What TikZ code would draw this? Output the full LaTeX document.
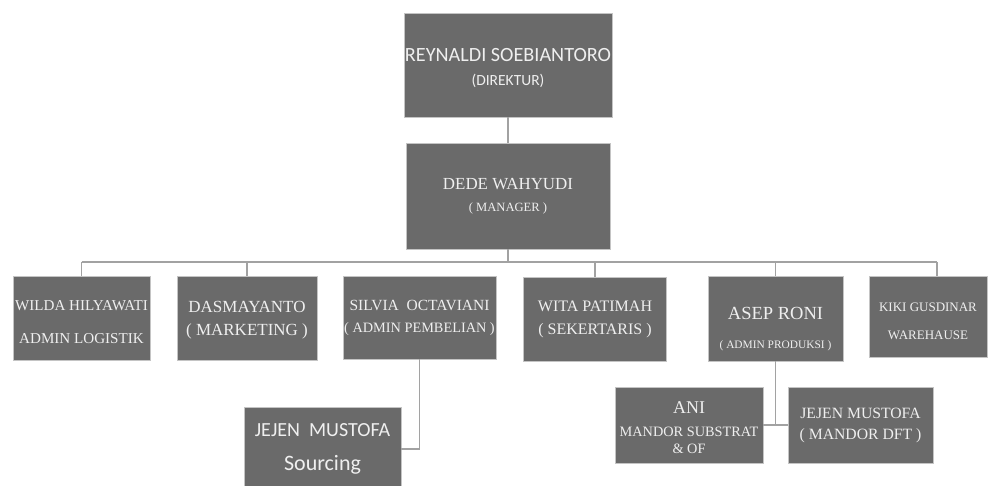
\documentclass[tikz,border=0pt]{standalone}
\usepackage{fontspec}
\setmainfont{Liberation Serif}
\newfontfamily\calibri{Carlito}
\definecolor{boxgray}{HTML}{6A6A6A}
\definecolor{rimgray}{HTML}{C4C4C4}
\definecolor{wiregray}{HTML}{A2A2A2}
\definecolor{label}{HTML}{EFEFEF}
\newcommand{\fs}[2]{\fontsize{#1}{#2}\selectfont}
\newcommand{\lift}[1]{\rule{0pt}{#1}}

\begin{document}
\begin{tikzpicture}[x=1pt,y=-1pt,
  unit/.style={draw=rimgray,line width=0.8pt,fill=boxgray,text=label,align=center,inner sep=0pt},
  wire/.style={draw=wiregray,line width=1.3pt}]
  \useasboundingbox (0,0) rectangle (991,486);
  % top levels
  \node[unit,minimum width=208,minimum height=104,font=\calibri\fs{20.2}{24}] (dir) at (508,65)
    {\lift{19pt}REYNALDI SOEBIANTORO\\{\fs{15.5}{24}(DIREKTUR)}};
  \node[unit,minimum width=204,minimum height=106,font=\fs{16.9}{22}] (mgr) at (508,196)
    {DEDE WAHYUDI\\{\fs{12.6}{22}( MANAGER )}};
  % staff row
  \node[unit,minimum width=137,minimum height=84,font=\fs{15.1}{33}] (wilda) at (81.5,318)
    {\lift{17.5pt}WILDA HILYAWATI\\ADMIN LOGISTIK};
  \node[unit,minimum width=140,minimum height=84,font=\fs{17}{23}] (dasma) at (247,318)
    {\lift{16pt}DASMAYANTO\\( MARKETING )};
  \node[unit,minimum width=153,minimum height=83,font=\fs{15.5}{22}] (silvia) at (419.5,317.5)
    {SILVIA~ OCTAVIANI\\{\fs{14.3}{22}( ADMIN PEMBELIAN )}};
  \node[unit,minimum width=143,minimum height=84,font=\fs{16}{23}] (wita) at (595,319)
    {WITA PATIMAH\\( SEKERTARIS )};
  \node[unit,minimum width=135,minimum height=85,font=\fs{18.5}{29}] (asep) at (775.5,318.5)
    {\lift{34pt}ASEP RONI\\{\fs{11.4}{29}( ADMIN PRODUKSI )}};
  \node[unit,minimum width=118,minimum height=81,font=\fs{13}{28}] (kiki) at (928,316.5)
    {\lift{18.6pt}KIKI GUSDINAR\\WAREHAUSE};
  % lower row
  \node[unit,minimum width=157,minimum height=84,font=\calibri\fs{20}{34}] (jejenA) at (322.5,449)
    {JEJEN~ MUSTOFA\\{\fs{22}{34}Sourcing}};
  \node[unit,minimum width=148,minimum height=76,font=\fs{14.3}{17}] (ani) at (689,425)
    {{\fs{18}{23}\lift{17pt}ANI}\\[6pt]MANDOR SUBSTRAT\\\&~OF};
  \node[unit,minimum width=145,minimum height=76,font=\fs{15.7}{21}] (jejenB) at (860.5,425)
    {JEJEN MUSTOFA\\( MANDOR DFT )};
  % connectors
  \coordinate (bus) at (0,262);
  \draw[wire] (dir) -- (mgr);
  \draw[wire] (mgr.south) -- (mgr.south |- bus);
  \draw[wire] (wilda.north |- bus) -- ([xshift=9]kiki.north |- bus);
  \foreach \n in {wilda,dasma,wita,asep}
    \draw[wire] (\n.north) -- (\n.north |- bus);
  \draw[wire] ([xshift=9]kiki.north) -- ([xshift=9]kiki.north |- bus);
  \draw[wire] (silvia.south) |- (jejenA.east);
  \draw[wire] (asep.south) -- (asep.south |- ani.east);
  \draw[wire] (ani.east) -- (jejenB.west);
\end{tikzpicture}
\end{document}
